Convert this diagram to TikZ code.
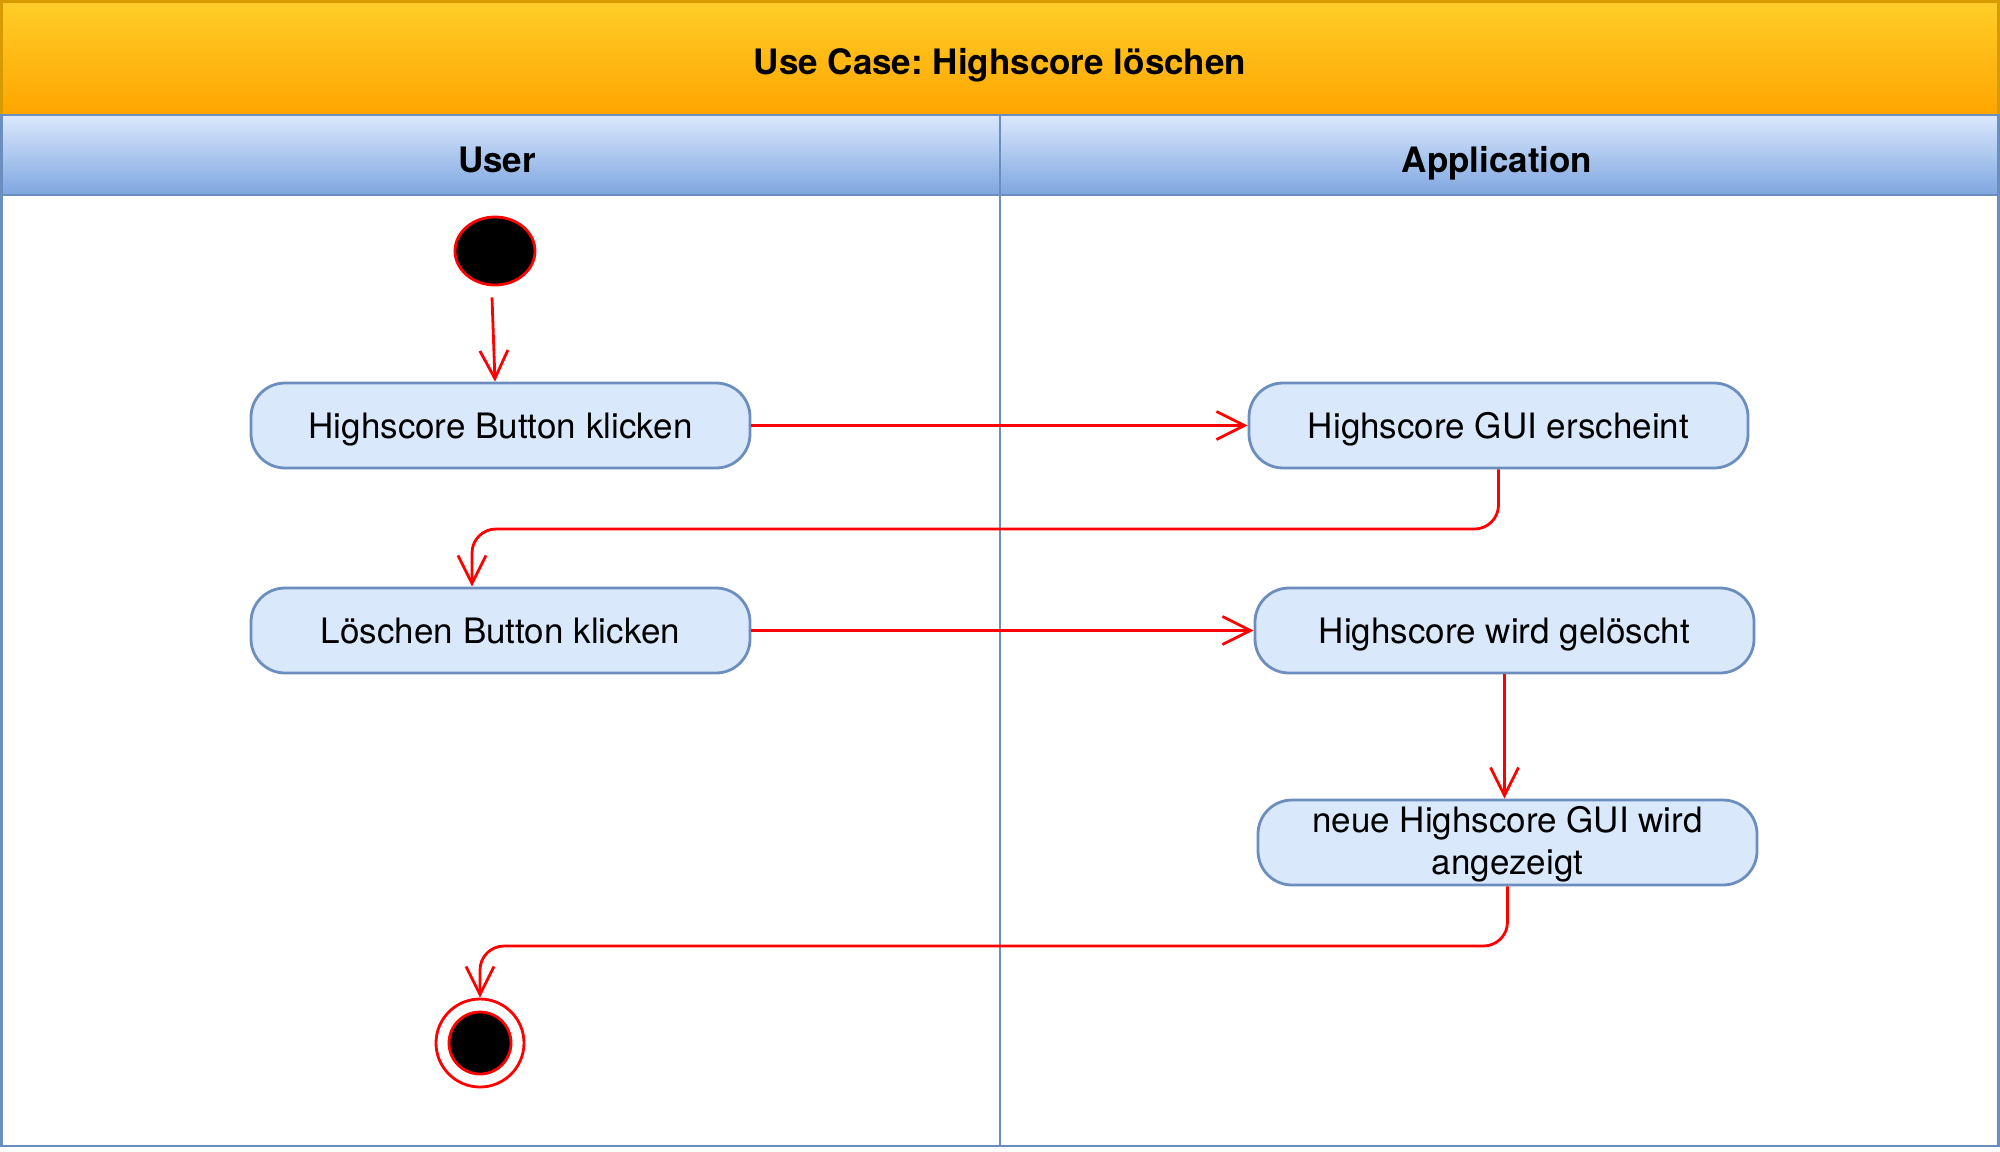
\documentclass[tikz,border=0pt]{standalone}
\usepackage{fontspec}
\setmainfont{TeX Gyre Heros}
\usetikzlibrary{arrows.meta,shapes.geometric}
\definecolor{boxfill}{HTML}{DAE8FC}
\definecolor{boxline}{HTML}{6C8EBF}
\definecolor{orangetop}{HTML}{FFCD28}
\definecolor{orangebot}{HTML}{FFA500}
\definecolor{orangeline}{HTML}{D79B00}
\definecolor{headbot}{HTML}{7EA6E0}
\definecolor{flowred}{HTML}{FF0000}
\frenchspacing
\begin{document}
\begin{tikzpicture}[x=0.5pt,y=-0.5pt,
  actionbase/.style={rectangle, rounded corners=17pt, draw=boxline, fill=boxfill, line width=1.4pt,
    minimum width=249.5pt, minimum height=42.5pt, font=\fontsize{17.5}{21}\selectfont,
    align=center, inner sep=0pt},
  action/.style={actionbase, text height=16.5pt, text depth=3.5pt},
  flow/.style={draw=flowred, line width=1.4pt, rounded corners=12pt,
    -{Straight Barb[length=14pt,width=14pt,line width=1.4pt]}},
  lane/.style={draw=boxline, line width=1.4pt},
  headtxt/.style={font=\bfseries\fontsize{17.5}{21}\selectfont, anchor=base}]
\useasboundingbox (0,0) rectangle (2000,1151);
% title band
\shade[top color=orangetop, bottom color=orangebot] (1.5,1.5) rectangle (1998.5,115);
\draw[draw=orangeline, line width=1.4pt] (1.5,1.5) rectangle (1998.5,115);
\node[headtxt] (title) at (1000,74) {Use Case: Highscore löschen};
% header band
\shade[top color=boxfill, bottom color=headbot] (1.5,115) rectangle (1998.5,195);
\draw[lane] (1.5,115) rectangle (1998.5,195);
\node[headtxt] (user) at (497,172) {User};
\node[headtxt] (app) at (1497,172) {Application};
% body
\draw[lane] (1.5,195) rectangle (1998.5,1146);
\draw[lane] (1000,115) -- (1000,1146);
% nodes
\node[ellipse, draw=flowred, fill=black, line width=1.4pt, minimum width=40pt, minimum height=34pt, inner sep=0pt] (start) at (495,251) {};
\node[action] (b1) at (500.5,425.5) {Highscore Button klicken};
\node[action] (b2) at (1498.5,425.5) {Highscore GUI erscheint};
\node[action] (b3) at (500.5,630.5) {Löschen Button klicken};
\node[action] (b4) at (1504.5,630.5) {Highscore wird gelöscht};
\node[actionbase] (b5) at (1507.5,842.5) {\raisebox{-1.3pt}[\height][\depth]{\begin{tabular}{@{}c@{}}neue Highscore GUI wird\\angezeigt\end{tabular}}};
\node[circle, draw=flowred, line width=1.4pt, minimum size=44pt, inner sep=0pt] (end) at (480,1043) {};
\node[circle, draw=flowred, fill=black, line width=1.4pt, minimum size=31pt, inner sep=0pt] (endin) at (end) {};
% connectors
\draw[flow] ([xshift=-1.5pt,yshift=-5.5pt]start.south) -- (start.south |- b1.north);
\draw[flow] (b1.east) -- (b2.west);
\draw[flow] (b2.south) -- (b2.south |- 0,529) -- (472,529) -- (b3.north -| 472,0);
\draw[flow] (b3.east) -- (b4.west);
\draw[flow] (b4.south) -- (b4.south |- b5.north);
\draw[flow] (b5.south) -- (b5.south |- 0,946) -- (end.north |- 0,946) -- (end.north);
\end{tikzpicture}
\end{document}
